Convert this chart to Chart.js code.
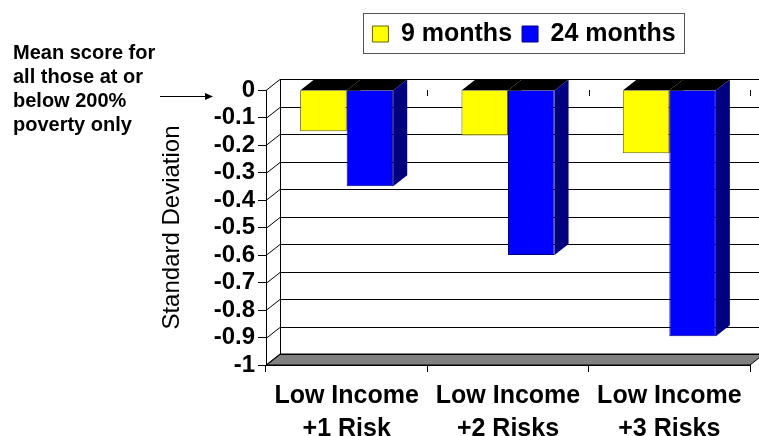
<!DOCTYPE html>
<html>
<head>
<meta charset="utf-8">
<script src="https://cdn.jsdelivr.net/npm/chart.js@4.4.1/dist/chart.umd.min.js"></script>
<style>
html,body{margin:0;padding:0;background:#fff}
</style>
</head>
<body>
<canvas id="c" width="759" height="436"></canvas>
<script>
// data
var categories = [['Low Income', '+1 Risk'], ['Low Income', '+2 Risks'], ['Low Income', '+3 Risks']]
var seriesNames = ['9 months', '24 months']
var months9 = [-0.15, -0.165, -0.23]
var months24 = [-0.35, -0.60, -0.895]
var yMin = -1, yMax = 0, yStep = 0.1
var noteLines = ['Mean score for', 'all those at or', 'below 200%', 'poverty only']

var font = "'Liberation Sans', Arial, sans-serif"
var dx = 14, dy = 11
var sideColors = ['#808000', '#000080']
var legendAt = {x: 524, y: 34}

var depthPlugin = {
    id: 'depth',
    afterLayout: function(chart) {
        // move legend to where it sits in the picture
        var lg = chart.legend
        var pad = lg.options.labels.padding
        var ih = Math.max(lg.options.labels.font.size, lg.options.labels.boxHeight)
        var mx = legendAt.x - (lg.left + lg.right) / 2
        var my = legendAt.y - (lg.top + pad + ih / 2)
        lg.left += mx; lg.right += mx
        lg.top += my; lg.bottom += my
    },
    beforeDatasetsDraw: function(chart) {
        var ctx = chart.ctx, a = chart.chartArea, ys = chart.scales.y
        ctx.save()
        ctx.lineWidth = 1
        ctx.strokeStyle = '#000'

        // floor
        var yb = Math.round(ys.getPixelForValue(yMin))
        ctx.fillStyle = '#808080'
        ctx.beginPath()
        ctx.moveTo(a.left, yb)
        ctx.lineTo(a.left + dx, yb - dy)
        ctx.lineTo(a.right + dx, yb - dy)
        ctx.lineTo(a.right, yb)
        ctx.closePath()
        ctx.fill()
        ctx.stroke()

        // side and back wall grid
        ys.ticks.forEach(function(t) {
            var py = Math.round(ys.getPixelForValue(t.value)) + 0.5
            ctx.beginPath()
            ctx.moveTo(a.left, py)
            ctx.lineTo(a.left + dx, py - dy)
            ctx.lineTo(a.right + dx + 10, py - dy)
            ctx.stroke()
        })
        var bx = a.left + dx + 0.5
        ctx.beginPath()
        ctx.moveTo(bx, Math.round(a.top) - dy)
        ctx.lineTo(bx, yb - dy)
        ctx.stroke()

        // small category ticks on the zero line
        var y0 = Math.round(ys.getPixelForValue(0))
        var n = categories.length
        for (var b = 1; b <= n; b++) {
            var tx = Math.round(a.left + b * a.width / n) + 0.5
            ctx.beginPath()
            ctx.moveTo(tx, y0)
            ctx.lineTo(tx, y0 + 6)
            ctx.stroke()
        }

        // top and side faces of the bars
        for (var i = 0; i < n; i++) {
            chart.data.datasets.forEach(function(ds, d) {
                var el = chart.getDatasetMeta(d).data[i]
                var p = el.getProps(['x', 'y', 'base', 'width'], true)
                var l = p.x - p.width / 2, r = p.x + p.width / 2
                var top = Math.min(p.y, p.base), bot = Math.max(p.y, p.base)
                ctx.fillStyle = '#000'
                ctx.beginPath()
                ctx.moveTo(l, top); ctx.lineTo(r, top)
                ctx.lineTo(r + dx, top - dy); ctx.lineTo(l + dx, top - dy)
                ctx.closePath(); ctx.fill()
                ctx.fillStyle = sideColors[d]
                ctx.beginPath()
                ctx.moveTo(r, top); ctx.lineTo(r + dx, top - dy)
                ctx.lineTo(r + dx, bot - dy); ctx.lineTo(r, bot)
                ctx.closePath(); ctx.fill()
            })
        }
        ctx.restore()
    },
    afterDraw: function(chart) {
        var ctx = chart.ctx
        ctx.save()
        // legend frame
        var hb = chart.legend.legendHitBoxes
        var last = hb[hb.length - 1]
        var l = Math.round(hb[0].left - 9), r = Math.round(last.left + last.width + 8)
        var cy = Math.round(hb[0].top + hb[0].height / 2)
        ctx.strokeStyle = '#555'
        ctx.lineWidth = 1
        ctx.strokeRect(l + 0.5, cy - 21 + 0.5, r - l, 40)

        // note on the left with arrow
        ctx.fillStyle = '#000'
        ctx.font = 'bold 20px ' + font
        ctx.textBaseline = 'middle'
        ctx.textAlign = 'left'
        noteLines.forEach(function(s, k) {
            ctx.fillText(s, 13, 53 + k * 24)
        })
        ctx.strokeStyle = '#000'
        ctx.beginPath()
        ctx.moveTo(160, 96.5)
        ctx.lineTo(206, 96.5)
        ctx.stroke()
        ctx.beginPath()
        ctx.moveTo(213, 96.5)
        ctx.lineTo(205, 93)
        ctx.lineTo(205, 100)
        ctx.closePath()
        ctx.fill()
        ctx.restore()
    }
}

var chart = new Chart(document.getElementById('c'), {
    type: 'bar',
    data: {
        labels: categories,
        datasets: [{
            label: seriesNames[0],
            data: months9,
            backgroundColor: '#ffff00',
            borderColor: '#666600',
            borderWidth: 1
        }, {
            label: seriesNames[1],
            data: months24,
            backgroundColor: '#0000ff',
            borderColor: '#000080',
            borderWidth: 1
        }]
    },
    options: {
        responsive: false,
        animation: false,
        categoryPercentage: 0.577,
        barPercentage: 1,
        layout: {padding: {left: 150, right: 9, top: 45, bottom: 0}},
        plugins: {
            legend: {
                position: 'top',
                labels: {
                    color: '#000',
                    font: {family: font, size: 25, weight: 'bold'},
                    boxWidth: 16,
                    boxHeight: 16,
                    padding: 10
                }
            },
            tooltip: {enabled: false}
        },
        scales: {
            x: {
                grid: {drawOnChartArea: false, tickLength: 7, color: '#000'},
                border: {color: '#000'},
                ticks: {
                    color: '#000',
                    padding: 8,
                    maxRotation: 0,
                    autoSkip: false,
                    font: {family: font, size: 25, weight: 'bold', lineHeight: 1.3}
                },
                afterFit: function(s) { s.height = 71 }
            },
            y: {
                min: yMin,
                max: yMax,
                grid: {drawOnChartArea: false, tickLength: 8, color: '#000'},
                border: {color: '#000'},
                ticks: {
                    stepSize: yStep,
                    autoSkip: false,
                    color: '#000',
                    padding: 3,
                    font: {family: font, size: 24, weight: 'bold'},
                    callback: function(v) { return String(Math.round(v * 10) / 10) }
                },
                title: {
                    display: true,
                    text: 'Standard Deviation',
                    color: '#000',
                    padding: {top: 8, bottom: 0},
                    font: {family: font, size: 24}
                },
                afterFit: function(s) { s.width = 116 }
            }
        }
    },
    plugins: [depthPlugin]
})
</script>
</body>
</html>
